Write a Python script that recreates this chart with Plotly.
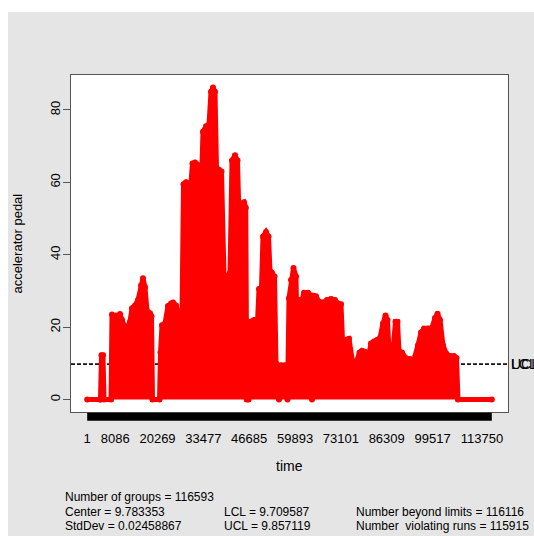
import plotly.graph_objects as go

# ---------------- data ----------------
n_groups = 116593
time_index = [1, 3693, 3837, 4125, 4557, 4846, 6863, 7151, 7727, 8303, 8880, 9456,
              10032, 10608, 11473, 12337, 12913, 13778, 14642, 15507, 16083, 16659,
              17236, 18100, 18532, 18820, 20837, 21125, 21558, 22422, 23287, 24151,
              24727, 25592, 26456, 27320, 27753, 28473, 29337, 29914, 30346, 31066,
              31643, 32073, 32507, 32939, 33371, 34236, 35100, 35677, 36253, 36829,
              37261, 37982, 38702, 39422, 40575, 41151, 41727, 42592, 43312, 43889,
              44321, 45185, 45700, 45990, 46480, 46770, 48067, 49075, 49507, 50228,
              50660, 51524, 52245, 52677, 53253, 53973, 54406, 54838, 55270, 55846,
              56999, 57719, 58151, 58728, 59448, 60168, 60601, 61033, 61897, 62474,
              63626, 64346, 64779, 65211, 65931, 66796, 67948, 69101, 70254, 71406,
              72270, 73135, 73567, 74287, 75440, 76448, 77457, 78465, 79186, 80050,
              80915, 81779, 82643, 83652, 84372, 85237, 85957, 86533, 86965, 87542,
              88262, 88838, 89415, 89847, 90711, 91864, 93016, 93881, 94601, 95322,
              96186, 97050, 98059, 99355, 100220, 100940, 101661, 102525, 103389,
              104542, 105695, 106415, 106847, 116593]
pedal = [0, 0, 0, 12.2, 12.2, 0, 0, 23.5, 22, 23.2, 21.5, 23.6,
         22, 20.4, 19.8, 21.5, 25.2, 26, 27.5, 31.5, 33.5, 31,
         24.5, 23.8, 23, 0, 0, 13, 20.5, 21, 25.8, 26.5,
         26.8, 26, 23, 23.5, 59.5, 60, 59, 60, 65.2, 65.5,
         65, 25, 22, 60, 74, 75.5, 76, 85, 86.2, 85,
         64, 63.5, 63, 34.5, 34, 35, 66, 67.5, 66, 45,
         54, 54.5, 53, 0, 0, 21.5, 22, 21.5, 30.5, 31,
         45, 46.3, 45, 35.5, 35, 34, 10, 9, 0, 9.5,
         9.5, 0, 28, 33, 36.3, 34, 12, 27.5, 27.5, 29.5,
         29.5, 28, 0, 28.7, 28.5, 27, 26.8, 27.5, 27.8, 27.5,
         26.5, 26.3, 16.5, 16.5, 16.8, 10.5, 10, 13, 13.5, 13.2,
         11, 15.5, 16, 16.5, 17, 21, 23.2, 22, 13.5, 13.3,
         15, 21.5, 21.5, 13.3, 13, 11.4, 11.2, 10, 12, 15,
         18.5, 19.6, 19.6, 19.8, 22.5, 23.7, 22, 15, 12.8,
         12, 12, 11.5, 0, 0]

tick_vals = [1, 8086, 20269, 33477, 46685, 59893, 73101, 86309, 99517, 113750]
tick_text = [str(v) for v in tick_vals]
y_ticks = [0, 20, 40, 60, 80]

center = 9.783353
std_dev = 0.02458867
lcl = 9.709587
ucl = 9.857119
n_beyond = 116116
n_violating = 115915

# ---------------- ranges (R style 4% extension) ----------------
span = n_groups - 1
x_range = [1 - 0.04 * span, n_groups + 0.04 * span]
y_hi = max(max(pedal), ucl)
y_lo = min(min(pedal), lcl)
y_range = [y_lo - 0.04 * (y_hi - y_lo), y_hi + 0.04 * (y_hi - y_lo)]

FONT = "Liberation Sans, Arial, Helvetica, sans-serif"
FRAME = "#555555"

fig = go.Figure()
fig.add_trace(go.Scatter(
    x=time_index, y=pedal, mode="lines+markers",
    line=dict(color="#ff0000", width=5),
    marker=dict(color="#ff0000", size=6),
    fill="tozeroy", fillcolor="#ff0000",
    showlegend=False, hoverinfo="skip"))

shapes = []
# white page margin around the grey device region
shapes.append(dict(type="rect", xref="paper", yref="paper", x0=-0.2, x1=1.2,
                   y0=1.187, y1=1.3, fillcolor="white", line_width=0, layer="below"))
shapes.append(dict(type="rect", xref="paper", yref="paper", x0=-0.2, x1=-0.1442,
                   y0=-0.5, y1=1.3, fillcolor="white", line_width=0, layer="below"))
# control limits
for lim in (lcl, ucl):
    shapes.append(dict(type="line", xref="paper", yref="y", x0=0, x1=1, y0=lim, y1=lim,
                       line=dict(color="black", width=1, dash="4px,2px"), layer="below"))
# dense per-group tick marks forming a black band
shapes.append(dict(type="rect", xref="x", yref="paper", x0=1, x1=n_groups,
                   y0=-0.0025, y1=-0.026, fillcolor="black", line_width=0, layer="above"))

annotations = []
annotations.append(dict(text="time", xref="paper", yref="paper", x=0.5, y=-0.1602,
                        showarrow=False, xanchor="center", yanchor="middle",
                        font=dict(size=14, color="black", family=FONT)))
annotations.append(dict(text="accelerator pedal", xref="paper", yref="paper", x=-0.1213, y=0.5,
                        textangle=-90, showarrow=False, xanchor="center", yanchor="middle",
                        font=dict(size=13, color="black", family=FONT)))
for lab, val in (("UCL", ucl), ("LCL", lcl)):
    annotations.append(dict(text=lab, xref="paper", yref="y", x=1.0023, y=val,
                            showarrow=False, xanchor="left", yanchor="middle",
                            font=dict(size=14, color="black", family=FONT)))

stats = [
    ("Number of groups = %d" % n_groups, -0.0183, -0.2522),
    ("Center = %s" % f"{center:.6f}", -0.0183, -0.2953),
    ("StdDev = %s" % f"{std_dev:.8f}", -0.0183, -0.3383),
    ("LCL = %s" % f"{lcl:.6f}", 0.3455, -0.2953),
    ("UCL = %s" % f"{ucl:.6f}", 0.3455, -0.3383),
    ("Number beyond limits = %d" % n_beyond, 0.6476, -0.2953),
    ("Number  violating runs = %d" % n_violating, 0.6476, -0.3383),
]
for txt, xx, yy in stats:
    annotations.append(dict(text=txt.replace("  ", "&nbsp; "), xref="paper", yref="paper", x=xx, y=yy,
                            showarrow=False, xanchor="left", yanchor="middle",
                            font=dict(size=12, color="black", family=FONT)))

fig.update_layout(
    width=534, height=536,
    margin=dict(l=71, r=26, t=75, b=124, pad=0),
    paper_bgcolor="#e5e5e5", plot_bgcolor="white",
    font=dict(family=FONT, color="black"),
    shapes=shapes, annotations=annotations,
    xaxis=dict(range=x_range, tickmode="array", tickvals=tick_vals, ticktext=tick_text,
               ticks="outside", ticklen=14, tickcolor="rgba(0,0,0,0)", tickangle=0,
               tickfont=dict(size=13, color="black", family=FONT),
               showgrid=False, zeroline=False, showline=True, linecolor=FRAME,
               linewidth=1, mirror=True),
    yaxis=dict(range=y_range, tickmode="array", tickvals=y_ticks,
               ticks="outside", ticklen=7, tickcolor=FRAME, tickwidth=1, tickangle=-90,
               ticklabelstandoff=-2,
               tickfont=dict(size=13, color="black", family=FONT),
               showgrid=False, zeroline=False, showline=True, linecolor=FRAME,
               linewidth=1, mirror=True),
)

fig.write_html("out.html")
